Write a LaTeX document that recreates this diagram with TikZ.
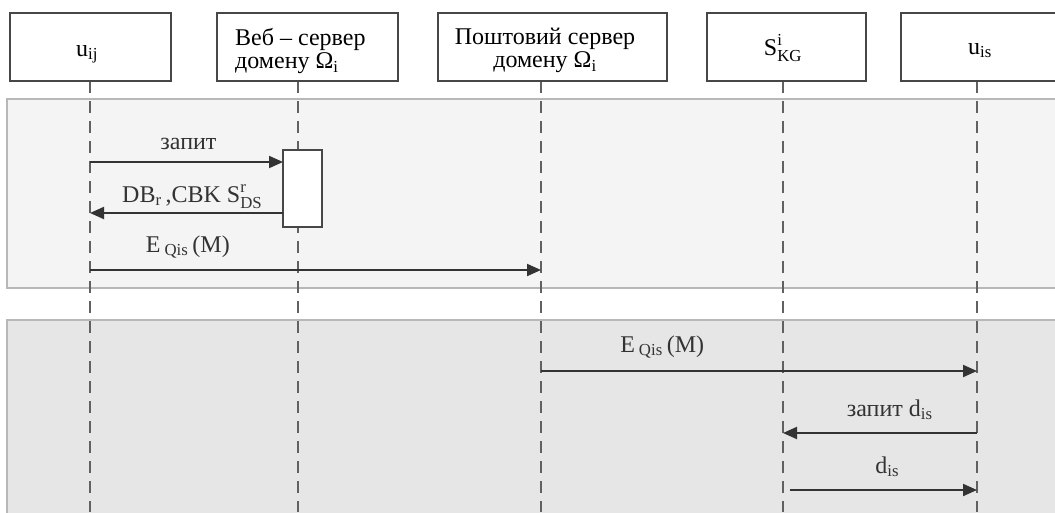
\documentclass[tikz,border=0pt]{standalone}
\usepackage{amsmath}
\usepackage{fontspec}
\setmainfont{Liberation Serif}
\usetikzlibrary{arrows.meta}
\definecolor{panellight}{rgb}{0.957, 0.957, 0.957}
\definecolor{paneldark}{rgb}{0.902, 0.902, 0.902}
\definecolor{panelline}{rgb}{0.72, 0.72, 0.72}
\definecolor{boxline}{rgb}{0.28, 0.28, 0.28}
\definecolor{lifegray}{rgb}{0.38, 0.38, 0.38}
\definecolor{msggray}{rgb}{0.2, 0.2, 0.2}
\tikzset{
  actor/.style={draw=boxline, line width=1.8pt, fill=white, minimum height=68pt,
    inner sep=0pt},
  actortext/.style={font=\fontsize{24}{23}\selectfont, inner sep=0pt},
  activation/.style={draw=boxline, line width=1.8pt, fill=white, inner sep=0pt,
    minimum width=39pt, minimum height=77pt},
  lifeline/.style={lifegray, line width=2pt, dash pattern=on 12pt off 8pt},
  msg/.style={msggray, line width=2pt, -{Triangle[length=14pt,width=12pt]}},
  msglabel/.style={font=\fontsize{24}{24}\selectfont, inner sep=0pt, anchor=base},
}

\begin{document}
\begin{tikzpicture}[x=1pt,y=-1pt]
  \clip (0,0) rectangle (1055,512);
  \fill[white] (0,0) rectangle (1055,512);

  \draw[panelline, line width=2pt, fill=panellight] (7,99) rectangle (1070,288);
  \draw[panelline, line width=2pt, fill=paneldark] (7,320) rectangle (1070,530);

  \foreach \name / \xpos in {uij/90, web/298, mail/541, kg/783, uis/977}
  {
    \coordinate (\name top) at (\xpos,81);
    \coordinate (\name end) at (\xpos,512);
    \draw[lifeline] (\name top) -- (\name end);
  }

  \node[actor, minimum width=161pt] (uij) at (90.5,47) {};
  \node[actor, minimum width=181pt] (web) at (307.5,47) {};
  \node[actor, minimum width=229pt] (mail) at (552.5,47) {};
  \node[actor, minimum width=159pt] (kg) at (786.5,47) {};
  \node[actor, minimum width=158pt] (uis) at (980,47) {};

  \node[actortext, anchor=base] (uij text) at (87,56) {u\textsubscript{ij}};
  \node[actortext, anchor=north west, align=left] (web text) at (235,28)
    {Веб – сервер\\домену Ω\textsubscript{i}};
  \node[actortext, anchor=north, align=center] (mail text) at (545,28)
    {Поштовий сервер\\домену Ω\textsubscript{i}};
  \node[actortext, anchor=base] (kg text) at (783,55) {S$^{\text{i}}_{\text{KG}}$};
  \node[actortext, anchor=base] (uis text) at (980,54) {u\textsubscript{is}};

  \node[activation] (act) at (302.5,188.5) {};

  \coordinate (a1) at (90,162);
  \coordinate (a2) at (283,162);
  \coordinate (b1) at (283,213);
  \coordinate (b2) at (90,213);
  \coordinate (c1) at (90,270);
  \coordinate (c2) at (541,270);
  \coordinate (d1) at (541,371);
  \coordinate (d2) at (977,371);
  \coordinate (e1) at (977,433);
  \coordinate (e2) at (783,433);
  \coordinate (f1) at (790,490);
  \coordinate (f2) at (977,490);

  \draw[msg] (a1) -- node[msglabel, pos=0.51, yshift=13pt] {запит} (a2);
  \draw[msg] (b1) -- node[msglabel, pos=0.47, yshift=11pt]
    {DB\textsubscript{r}\,,CBK S$^{\text{r}}_{\text{DS}}$} (b2);
  \draw[msg] (c1) -- node[msglabel, pos=0.217, yshift=18pt]
    {E\,\textsubscript{Qis}\,(M)} (c2);
  \draw[msg] (d1) -- node[msglabel, pos=0.278, yshift=19pt]
    {E\,\textsubscript{Qis}\,(M)} (d2);
  \draw[msg] (e1) -- node[msglabel, pos=0.45, yshift=17pt]
    {запит d\textsubscript{is}} (e2);
  \draw[msg] (f1) -- node[msglabel, pos=0.52, yshift=17pt] {d\textsubscript{is}} (f2);

\end{tikzpicture}
\end{document}
